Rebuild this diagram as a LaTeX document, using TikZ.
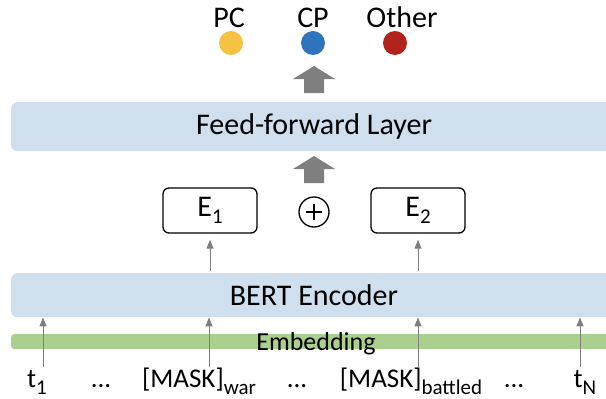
\documentclass[tikz,border=0pt]{standalone}
\usepackage{fontspec}
\setmainfont{Carlito}
\usetikzlibrary{arrows.meta}

\definecolor{layerblue}{HTML}{D0DFEE}
\definecolor{embgreen}{HTML}{AACF8F}
\definecolor{pcyellow}{HTML}{F5C242}
\definecolor{cpblue}{HTML}{2E73BC}
\definecolor{otherred}{HTML}{B2231C}
\definecolor{arrowgray}{HTML}{7F7F7F}

% lowered, smaller index text
\newcommand\lowidx[2][20]{\raisebox{-7pt}{\fontsize{#1}{#1}\selectfont #2}}

\tikzset{
  layer/.style={fill=layerblue, rounded corners=6pt, inner sep=0pt},
  bigtext/.style={font=\fontsize{30}{32}\selectfont},
  toktext/.style={font=\fontsize{27}{29}\selectfont, anchor=base, inner sep=0pt},
  ebox/.style={draw=black, line width=1.3pt, rounded corners=6pt,
    minimum width=94pt, minimum height=45pt, inner sep=0pt,
    font=\fontsize{30}{32}\selectfont},
  thinarrow/.style={draw=arrowgray, line width=0.9pt,
    -{Triangle[width=7pt,length=9pt]}},
  dot/.style={circle, inner sep=0pt, minimum size=24pt},
  classlbl/.style={font=\fontsize{30}{32}\selectfont, anchor=base, inner sep=0pt},
  pics/bigarrow/.style={code={
    \fill[arrowgray] (-10,26) -- (-10,12) -- (-21,12) -- (0,-1) -- (21,12)
      -- (10,12) -- (10,26) -- cycle;}}
}

\begin{document}
\begin{tikzpicture}[x=1pt, y=-1pt]
  \useasboundingbox (0,0) rectangle (606,399);
  \clip (0,0) rectangle (606,399);

  % class labels and their dots
  \node[classlbl] (pc) at (229,27) {PC};
  \node[classlbl] (cp) at (313,27) {CP};
  \node[classlbl] (other) at (402,27) {Other};
  \node[dot, fill=pcyellow] (dpc) at (231,43) {};
  \node[dot, fill=cpblue] (dcp) at (313,43) {};
  \node[dot, fill=otherred] (dother) at (395,43) {};

  % layers
  \node[layer, minimum width=620pt, minimum height=49pt, anchor=north west]
    (ff) at (11,102) {};
  \node[bigtext] at (314,127) {Feed-forward Layer};
  \node[layer, minimum width=620pt, minimum height=44pt, anchor=north west]
    (bert) at (11,273) {};
  \node[bigtext] at (314,295) {BERT Encoder};
  \node[fill=embgreen, rounded corners=3pt, minimum width=620pt,
    minimum height=15pt, inner sep=0pt, anchor=north west] (emb) at (11,334) {};
  \node[font=\fontsize{26}{28}\selectfont, anchor=base, inner sep=0pt]
    at (316,350) {Embedding};

  % wide gray arrows
  \coordinate (upA) at (314,67);
  \coordinate (upB) at (314,157);
  \pic at (upA) {bigarrow};
  \pic at (upB) {bigarrow};

  % entity representations
  \node[ebox] (e1) at (210,210.5) {E\lowidx[21]{1}};
  \node[ebox] (e2) at (418,210.5) {E\lowidx[21]{2}};
  \node[circle, draw=black, line width=1.3pt, minimum size=30pt, inner sep=0pt]
    (plus) at (314,212) {};
  \draw[line width=1.3pt] (plus.center) ++(-8,0) -- ++(16,0)
    (plus.center) ++(0,-8) -- ++(0,16);

  \coordinate (b1) at (210,271);
  \coordinate (b2) at (418,271);
  \draw[thinarrow] (b1) -- ([yshift=-6pt]e1.south);
  \draw[thinarrow] (b2) -- ([yshift=-6pt]e2.south);

  % input tokens
  \node[toktext] (t1) at (37,387) {t\lowidx[21]{1}};
  \node[toktext] (d1) at (101,387) {...};
  \node[toktext] (mw) at (199,387) {[MASK]\lowidx[21]{war}};
  \node[toktext] (d2) at (297,387) {...};
  \node[toktext] (mb) at (411,387) {[MASK]\lowidx[21]{battled}};
  \node[toktext] (d3) at (514,387) {...};
  \node[toktext] (tn) at (585,387) {t\lowidx[21]{N}};

  \coordinate (s1) at (43,367);
  \coordinate (s2) at (209,367);
  \coordinate (s3) at (418,367);
  \coordinate (s4) at (580,367);
  \foreach \s in {s1,s2,s3,s4}
    \draw[thinarrow] (\s) -- (\s |- bert.south);
\end{tikzpicture}
\end{document}
